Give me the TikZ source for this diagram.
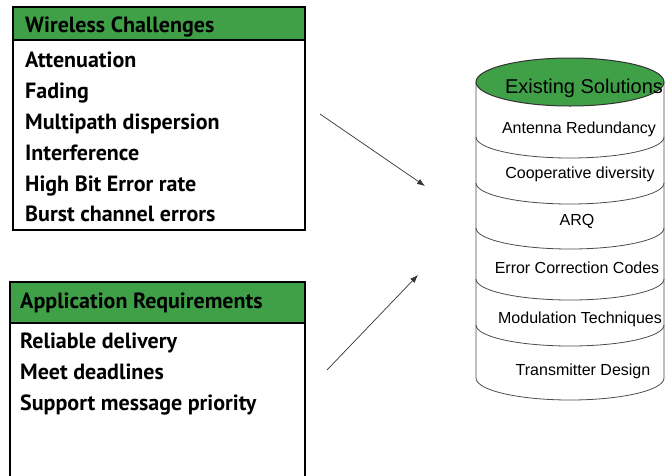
\documentclass[tikz,border=0pt]{standalone}
\usepackage{fontspec}
\usetikzlibrary{arrows.meta}
\newfontfamily\listfont{PT Sans}
\newfontfamily\cylfont{Liberation Sans}
\definecolor{hdrgreen}{RGB}{64,160,72}

\begin{document}
\begin{tikzpicture}[x=1pt,y=-1pt,
  boxline/.style={line width=2pt},
  hdrtext/.style={anchor=base west,inner sep=0pt,font=\listfont\bfseries\fontsize{22}{24}\selectfont},
  itemtext/.style={hdrtext},
  cyltext/.style={anchor=base,inner sep=0pt,font=\cylfont\fontsize{16}{18}\selectfont},
  cylline/.style={line width=0.8pt,black!70},
  flow/.style={-{Latex[length=8pt,width=6pt]},line width=0.7pt,black!80}]
\useasboundingbox (0,0) rectangle (665,475);

% challenges box
\fill[hdrgreen] (13,7) rectangle (305,40);
\draw[boxline] (13,40) -- (305,40);
\draw[boxline] (13,7) rectangle (305,230);
\node[hdrtext] (chal) at (25,32) {Wireless Challenges};
\foreach \txt [count=\i] in {Attenuation,Fading,Multipath dispersion,Interference,High Bit Error rate,Burst channel errors}
  \node[itemtext] (chal\i) at (25,{37+\i*30.8}) {\txt};

% requirements box
\fill[hdrgreen] (10,282) rectangle (305,323);
\draw[boxline] (10,323) -- (305,323);
\draw[boxline] (10,480) -- (10,282) -- (305,282) -- (305,480);
\node[hdrtext] (req) at (20,308) {Application Requirements};
\foreach \txt [count=\i] in {Reliable delivery,Meet deadlines,Support message priority}
  \node[itemtext] (req\i) at (20,{317+\i*31}) {\txt};

% solutions cylinder
\draw[cylline] (476,82) -- (476,378) arc[start angle=180,end angle=0,x radius=94,y radius=22] -- (664,82);
\foreach \yy in {137,183,228,279,325}
  \draw[cylline] (476,\yy) arc[start angle=180,end angle=0,x radius=94,y radius=21];
\draw[fill=hdrgreen,line width=1pt,draw=black!80] (570,82) ellipse[x radius=94,y radius=24];
\node[cyltext,font=\cylfont\fontsize{20}{22}\selectfont] (sol) at (584,93) {Existing Solutions};
\foreach \txt/\xx/\yy [count=\i] in {Antenna Redundancy/579/133,Cooperative diversity/580/178,ARQ/577/225,Error Correction Codes/577/273,Modulation Techniques/580/323,Transmitter Design/583/375}
  \node[cyltext] (sol\i) at (\xx,\yy) {\txt};

% arrows
\coordinate (fromchal) at (320,114);
\coordinate (tochal) at (425,186);
\coordinate (fromreq) at (327,370);
\coordinate (toreq) at (418,275);
\draw[flow] (fromchal) -- (tochal);
\draw[flow] (fromreq) -- (toreq);
\end{tikzpicture}
\end{document}
